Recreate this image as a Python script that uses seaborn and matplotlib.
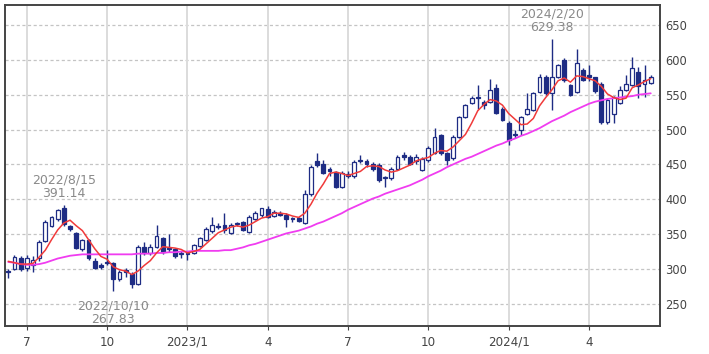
import numpy as np
import pandas as pd
import matplotlib
matplotlib.use("Agg")
import matplotlib.pyplot as plt
import seaborn as sns

# ---- data (weekly candles, week of 2022-06-13 .. 2024-06-10) ----
opens = [297, 300, 316, 302, 305, 316, 340, 362, 371, 387, 361, 352, 328, 341, 311, 306, 310, 308, 286, 298,
         293, 279, 332, 323, 332, 344, 330, 328, 323, 321, 323, 333, 342, 354, 362, 363, 352, 364, 367, 353,
         372, 377, 386, 376, 381, 377, 372, 373, 366, 407, 455, 450, 443, 439, 418, 433, 433, 455, 455, 451,
         449, 430, 430, 444, 463, 461, 455, 442, 456, 467, 492, 466, 459, 490, 518, 538, 546, 540, 540, 559,
         530, 509, 492, 499, 523, 528, 554, 576, 553, 576, 600, 564, 554, 585, 578, 575, 566, 511, 522, 538,
         557, 564, 583, 566, 567]
highs = [300, 320, 318, 320, 318, 341, 370, 376, 386, 391.14, 363, 353, 343, 343, 316, 308, 327, 310, 298, 301,
         295, 334, 338, 336, 363, 346, 350, 330, 326, 326, 336, 346, 360, 375, 366, 380, 366, 368, 369, 378,
         383, 388, 391, 384, 383, 380, 374, 375, 413, 449, 467, 456, 447, 440, 440, 440, 456, 463, 458, 453,
         452, 433, 446, 463, 468, 463, 465, 460, 476, 502, 494, 468, 492, 520, 537, 548, 564, 542, 572, 565,
         532, 512, 500, 520, 552, 554, 580, 578, 629.38, 594, 603, 566, 615, 588, 593, 576, 568, 545, 548, 562,
         578, 604, 590, 592, 578]
lows = [287, 298, 297, 297, 296, 312, 338, 360, 369, 362, 355, 328, 326, 313, 300, 300, 306, 267.83, 283, 289,
        272, 277, 320, 320, 330, 322, 325, 316, 316, 313, 321, 331, 340, 352, 357, 351, 350, 362, 354, 351,
        370, 375, 373, 374, 376, 360, 368, 367, 364, 405, 446, 436, 433, 416, 416, 430, 431, 452, 447, 441,
        425, 418, 428, 442, 457, 449, 450, 440, 454, 465, 463, 449, 457, 488, 516, 536, 530, 530, 538, 522,
        512, 478, 488, 492, 521, 526, 552, 550, 528, 574, 568, 548, 552, 569, 569, 552, 508, 508, 510, 536,
        555, 562, 545, 547, 565]
closes = [295, 317, 300, 316, 313, 339, 368, 375, 384, 364, 357, 330, 341, 316, 302, 303, 308, 285, 296, 295,
          278, 332, 323, 332, 348, 325, 328, 318, 321, 323, 334, 344, 358, 363, 360, 356, 363, 366, 356, 375,
          380, 387, 375, 382, 378, 372, 371, 369, 408, 447, 449, 438, 441, 418, 437, 436, 454, 457, 450, 444,
          428, 431, 443, 461, 460, 450, 461, 458, 473, 490, 466, 456, 490, 518, 535, 545, 545, 535, 557, 524,
          514, 485, 494, 518, 530, 552, 576, 553, 576, 592, 571, 550, 595, 571, 576, 556, 511, 542, 547, 557,
          566, 588, 562, 571, 576]
ma_short = [311, 309, 307, 307, 308, 317, 327, 342, 356, 366, 370, 362, 355, 342, 329, 318, 314, 303, 299, 297,
            292, 297, 305, 312, 323, 332, 331, 330, 328, 323, 325, 328, 336, 344, 352, 356, 360, 362, 360, 363,
            368, 373, 375, 380, 380, 379, 376, 374, 380, 393, 409, 422, 437, 439, 437, 434, 437, 440, 447, 448,
            447, 442, 439, 441, 445, 449, 455, 458, 460, 466, 470, 469, 475, 484, 493, 509, 527, 536, 543, 541,
            535, 523, 515, 507, 508, 516, 534, 546, 557, 570, 574, 568, 577, 576, 573, 570, 562, 551, 546, 543,
            545, 560, 564, 569, 573]
ma_long = [310, 309, 307, 306, 306, 307, 309, 312, 315, 317, 319, 320, 321, 321, 321, 321, 321, 321, 321, 321,
           321, 322, 322, 322, 323, 323, 324, 324, 325, 325, 326, 326, 326, 326, 326, 327, 327, 329, 331, 334,
           336, 339, 342, 345, 348, 351, 353, 355, 358, 361, 365, 368, 372, 376, 380, 385, 389, 393, 397, 401,
           404, 408, 411, 414, 417, 420, 424, 428, 433, 437, 441, 446, 450, 454, 458, 461, 465, 469, 473, 477,
           480, 484, 487, 491, 494, 498, 502, 507, 512, 516, 520, 525, 529, 533, 537, 540, 542, 544, 545, 546,
           547, 548, 550, 551, 552]
tick_weeks = [3, 16, 29, 42, 55, 68, 81, 94]
tick_labels = ["7", "10", "2023/1", "4", "7", "10", "2024/1", "4"]
yticks = [250, 300, 350, 400, 450, 500, 550, 600, 650]
notes = [(9, 391.14, "2022/8/15\n391.14", "top"),
         (17, 267.83, "2022/10/10\n267.83", "bottom"),
         (88, 629.38, "2024/2/20\n629.38", "top")]

df = pd.DataFrame({"week": np.arange(len(closes)), "open": opens, "high": highs,
                   "low": lows, "close": closes, "ma_s": ma_short, "ma_l": ma_long})

sns.set_style("white")
plt.rcParams["font.family"] = ["DejaVu Sans"]

fig = plt.figure(figsize=(7.09, 3.54), dpi=100)
ax = fig.add_axes([5 / 709, 1 - 326 / 354, (660 - 5) / 709, (326 - 5) / 354])

navy = "#1e2c84"
# grid
for t in yticks:
    ax.axhline(t, color="#c4c4c4", lw=0.9, ls=(0, (2.5, 2.0)), zorder=0)
for t in tick_weeks:
    ax.axvline(t, color="#dcdcdc", lw=1.4, zorder=0)

# wicks
ax.vlines(df["week"], df["low"], df["high"], color=navy, lw=1.0, zorder=2)
# bodies
up = df["close"] >= df["open"]
bottoms = np.minimum(df["open"], df["close"])
heights = np.maximum(np.abs(df["close"] - df["open"]), 1.5)
ax.bar(df["week"], heights, bottom=bottoms, width=0.62,
       color=np.where(up, "white", navy), edgecolor=navy, linewidth=0.9, zorder=3)

sns.lineplot(data=df, x="week", y="ma_l", color="#f03cf0", lw=1.3, ax=ax, zorder=4)
sns.lineplot(data=df, x="week", y="ma_s", color="#f03a3a", lw=1.1, ax=ax, zorder=5)

for x, y, txt, side in notes:
    dy = 4 if side == "top" else -6
    ax.annotate(txt, xy=(x, y), xytext=(0, dy), textcoords="offset points",
                ha="center", va="bottom" if side == "top" else "top",
                fontsize=9, color="#8a8a8a", linespacing=1.05, zorder=6)

ax.set_xlim(-0.53, 105.5)
ax.set_ylim(218.2, 678.7)
ax.set_xticks(tick_weeks)
ax.set_xticklabels(tick_labels)
ax.set_yticks(yticks)
ax.yaxis.tick_right()
ax.tick_params(axis="x", length=3, width=0.8, color="#444444", labelsize=8.6,
               labelcolor="#444444", pad=4, direction="out", bottom=True)
ax.tick_params(axis="y", length=0, labelsize=8.3, labelcolor="#444444", pad=4, right=True, left=False)
ax.set_xlabel("")
ax.set_ylabel("")
for s in ax.spines.values():
    s.set_color("#444444")
    s.set_linewidth(1.4)
    s.set_visible(True)

fig.savefig("out.png", dpi=100)
